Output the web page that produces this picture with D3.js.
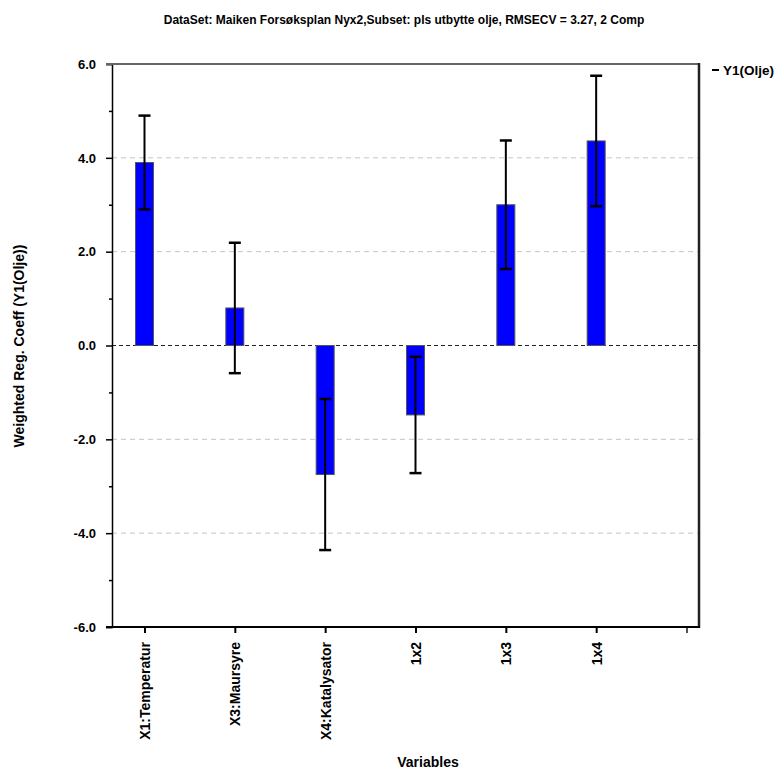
<!DOCTYPE html>
<html>
<head>
<meta charset="utf-8">
<script src="https://cdn.jsdelivr.net/npm/d3@7"></script>
<style>
  body { margin: 0; background: #fff; }
  svg { display: block; font-family: "Liberation Sans", Arial, sans-serif; }
</style>
</head>
<body>
<svg id="chart" width="784" height="769"></svg>
<script>
// ---- data ----
const categories = ["X1:Temperatur", "X3:Maursyre", "X4:Katalysator", "1x2", "1x3", "1x4"];
const coefficients = [3.9, 0.8, -2.75, -1.48, 3.0, 4.36];
const errorHalfWidth = [1.0, 1.39, 1.61, 1.24, 1.37, 1.39];
const yMajorTicks = [-6, -4, -2, 0, 2, 4, 6];
const yMinorTicks = [-5, -3, -1, 1, 3, 5];
const xTickSlots = [0, 1, 2, 3, 4, 5, 6];
const titleText = "DataSet: Maiken Forsøksplan Nyx2,Subset: pls utbytte olje, RMSECV = 3.27, 2 Comp";
const yTitle = "Weighted Reg. Coeff (Y1(Olje))";
const xTitle = "Variables";
const legendLabel = "Y1(Olje)";

// ---- layout ----
const svg = d3.select("#chart");
const pLeft = 112, pRight = 699, pTop = 64, pBottom = 627;

const y = d3.scaleLinear().domain([-6, 6]).range([pBottom, pTop]);
const x = d3.scaleLinear().domain([0, 6]).range([144.5, 686.5]);
const barW = 18;

// grid lines
svg.append("g").selectAll("line")
  .data(yMajorTicks.filter(d => d !== 0 && Math.abs(d) !== 6))
  .join("line")
  .attr("x1", pLeft).attr("x2", pRight)
  .attr("y1", d => y(d)).attr("y2", d => y(d))
  .attr("stroke", "#c4c4c4").attr("stroke-width", 1)
  .attr("stroke-dasharray", "5,4");

// zero line
svg.append("line")
  .attr("x1", pLeft).attr("x2", pRight)
  .attr("y1", y(0)).attr("y2", y(0))
  .attr("stroke", "#222").attr("stroke-width", 1)
  .attr("stroke-dasharray", "4,3");

// bars
svg.append("g").selectAll("rect")
  .data(coefficients)
  .join("rect")
  .attr("x", (d, i) => x(i) - barW / 2)
  .attr("width", barW)
  .attr("y", d => y(Math.max(0, d)))
  .attr("height", d => Math.abs(y(d) - y(0)))
  .attr("fill", "#0000ff")
  .attr("stroke", "#555").attr("stroke-width", 1);

// error bars
const eb = svg.append("g");
coefficients.forEach((d, i) => {
  const lo = d - errorHalfWidth[i], hi = d + errorHalfWidth[i];
  eb.append("line")
    .attr("x1", x(i)).attr("x2", x(i))
    .attr("y1", y(lo)).attr("y2", y(hi))
    .attr("stroke", "#000").attr("stroke-width", 2);
  [lo, hi].forEach(v => {
    eb.append("line")
      .attr("x1", x(i) - 6).attr("x2", x(i) + 6)
      .attr("y1", y(v)).attr("y2", y(v))
      .attr("stroke", "#000").attr("stroke-width", 2.5);
  });
});

// y axis
const yAxis = svg.append("g").attr("transform", `translate(${pLeft},0)`)
  .call(d3.axisLeft(y).tickValues(yMajorTicks).tickSize(6).tickPadding(10)
    .tickFormat(d => d.toFixed(1)));
yAxis.select(".domain").attr("stroke", "#000").attr("stroke-width", 1.5);
yAxis.selectAll(".tick text")
  .attr("font-size", 13).attr("font-weight", "bold").attr("fill", "#000")
  .attr("font-family", "Liberation Sans, Arial, sans-serif");
yAxis.selectAll(".tick line").attr("stroke", "#000").attr("stroke-width", 1.5);

const yMinor = svg.append("g").attr("transform", `translate(${pLeft},0)`)
  .call(d3.axisLeft(y).tickValues(yMinorTicks).tickSize(3).tickFormat(""));
yMinor.select(".domain").remove();
yMinor.selectAll(".tick line").attr("stroke", "#000").attr("stroke-width", 1.5);

// frame: top, right
svg.append("line").attr("x1", pLeft - 6).attr("x2", pRight).attr("y1", pTop).attr("y2", pTop)
  .attr("stroke", "#666").attr("stroke-width", 2);
svg.append("line").attr("x1", pRight).attr("x2", pRight).attr("y1", pTop - 1).attr("y2", pBottom + 1)
  .attr("stroke", "#222").attr("stroke-width", 2.5);

// x axis
const xAxis = svg.append("g").attr("transform", `translate(0,${pBottom})`)
  .call(d3.axisBottom(x).tickValues(xTickSlots).tickSize(6).tickFormat(i => categories[i] || ""));
xAxis.select(".domain").remove();
xAxis.selectAll(".tick line").attr("stroke", (d, i) => i === 6 ? "#555" : "#000").attr("stroke-width", 2);
xAxis.selectAll(".tick text")
  .attr("font-size", 14).attr("font-weight", "bold").attr("fill", "#000")
  .attr("font-family", "Liberation Sans, Arial, sans-serif")
  .attr("text-anchor", "end")
  .attr("transform", "rotate(-90)")
  .attr("x", -15).attr("y", 0).attr("dy", "0.36em");
svg.append("line").attr("x1", pLeft - 6).attr("x2", pRight + 1).attr("y1", pBottom).attr("y2", pBottom)
  .attr("stroke", "#000").attr("stroke-width", 2);

// titles
svg.append("text").attr("x", 404).attr("y", 24).attr("text-anchor", "middle")
  .attr("font-size", 12).attr("font-weight", "bold").text(titleText);
svg.append("text").attr("transform", "translate(24,346) rotate(-90)").attr("text-anchor", "middle")
  .attr("font-size", 14).attr("font-weight", "bold").text(yTitle);
svg.append("text").attr("x", 428).attr("y", 767).attr("text-anchor", "middle")
  .attr("font-size", 14).attr("font-weight", "bold").text(xTitle);

// legend
svg.append("line").attr("x1", 712).attr("x2", 719).attr("y1", 70).attr("y2", 70)
  .attr("stroke", "#000").attr("stroke-width", 2);
svg.append("text").attr("x", 723).attr("y", 75)
  .attr("font-size", 13.5).attr("font-weight", "bold").text(legendLabel);
</script>
</body>
</html>
